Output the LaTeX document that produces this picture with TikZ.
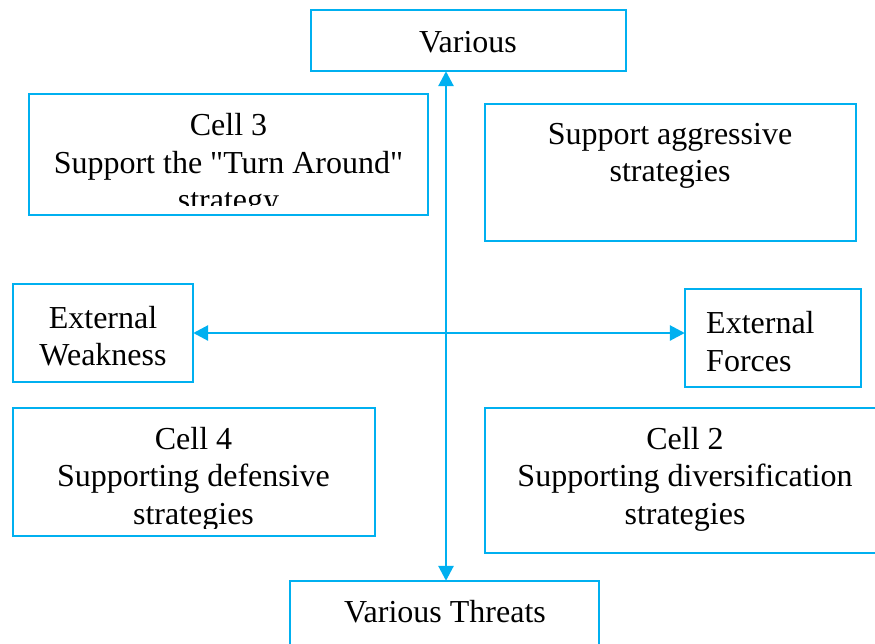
\documentclass[tikz,border=0pt]{standalone}
\usepackage{fontspec}
\setmainfont{Liberation Serif}[Ligatures=TeXOff]
\usetikzlibrary{arrows.meta}
\definecolor{cblue}{HTML}{00B0F0}
\tikzset{
  box/.style={draw=cblue, line width=2pt, fill=none},
  txt/.style={inner sep=0pt, align=center, font=\fontsize{32}{37.5}\selectfont, text=black},
  link/.style={draw=cblue, line width=2.8pt, {Triangle[length=15pt,width=15pt]}-{Triangle[length=15pt,width=15pt]}}
}
\begin{document}
\begin{tikzpicture}[x=1pt,y=-1pt]
\useasboundingbox (0,0) rectangle (875,643);
% boxes
\draw[box] (311,10) rectangle (626,71);
\node[inner sep=0pt, minimum width=315pt, minimum height=61pt] (various) at (468.5,40.5) {};
\draw[box] (29,94) rectangle (428,215);
\draw[box] (485,104) rectangle (856,241);
\draw[box] (13,284) rectangle (193,382);
\node[inner sep=0pt, minimum width=180pt, minimum height=98pt] (extweak) at (103,333) {};
\draw[box] (685,289) rectangle (861,387);
\node[inner sep=0pt, minimum width=176pt, minimum height=98pt] (extforces) at (773,338) {};
\draw[box] (13,408) rectangle (375,536);
\draw[box] (485,408) rectangle (885,553);
\draw[box] (290,581) rectangle (599,680);
\node[inner sep=0pt, minimum width=309pt, minimum height=99pt] (threats) at (444.5,630.5) {};
% texts
\node[txt] (tvarious) at (468,42) {Various};
\begin{scope}
\clip (30,95) rectangle (427,205);
\node[txt] (tcell3) at (228.5,165.5) {Cell 3\\Support the "Turn Around"\\strategy};
\end{scope}
\node[txt] (taggr) at (670,156) {Support aggressive\\strategies};
\node[txt] (tweak) at (103,336) {External\\Weakness};
\node[txt, align=left, anchor=west] (tforces) at (706,341.5) {External\\Forces};
\begin{scope}
\clip (14,409) rectangle (374,528);
\node[txt] (tcell4) at (193.5,479) {Cell 4\\Supporting defensive\\strategies};
\end{scope}
\node[txt] (tcell2) at (685,479) {Cell 2\\Supporting diversification\\strategies};
\node[txt] (tthreats) at (445,612) {Various Threats};
% connectors
\coordinate (vx) at (446,0);
\draw[link] (vx |- various.south) -- (vx |- threats.north);
\draw[link] (extweak.east) -- (extweak.east -| extforces.west);
\end{tikzpicture}
\end{document}
